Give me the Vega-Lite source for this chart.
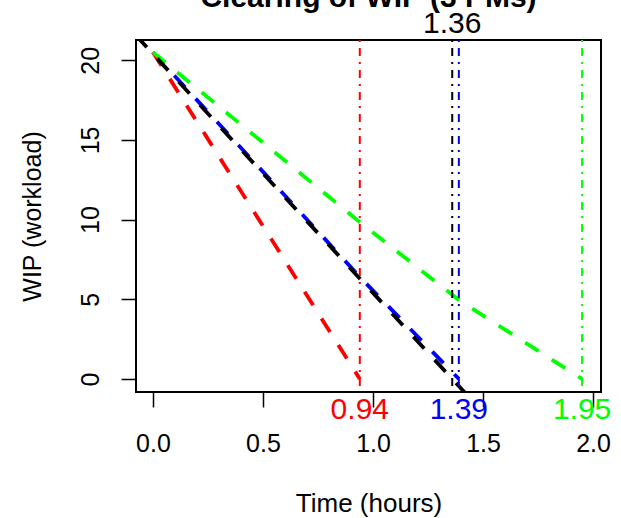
{
  "$schema": "https://vega.github.io/schema/vega-lite/v6.json",
  "autosize": {"type": "none"},
  "width": 465,
  "height": 352,
  "padding": {"left": 136, "top": 40, "right": 20, "bottom": 126},
  "background": "white",
  "title": {
    "text": "Clearing of WIP (3 PMs)",
    "fontSize": 30,
    "fontWeight": "bold",
    "font": "Liberation Sans",
    "color": "black",
    "anchor": "middle",
    "frame": "group",
    "baseline": "alphabetic",
    "offset": -28
  },
  "config": {
    "view": {"stroke": "black", "strokeWidth": 2},
    "font": "Liberation Sans"
  },
  "datasets": {
    "paths": [
      {"series": "1.39", "time": 0, "wip": 20.5},
      {"series": "1.39", "time": 0.94, "wip": 6.4},
      {"series": "1.39", "time": 1.39, "wip": 0},
      {"series": "0.94", "time": 0, "wip": 20.5},
      {"series": "0.94", "time": 0.94, "wip": 0},
      {"series": "1.95", "time": 0, "wip": 20.5},
      {"series": "1.95", "time": 0.94, "wip": 9.84},
      {"series": "1.95", "time": 1.39, "wip": 4.95},
      {"series": "1.95", "time": 1.95, "wip": 0},
      {"series": "1.36", "time": -0.077, "wip": 21.555},
      {"series": "1.36", "time": 1.46, "wip": -1.5}
    ],
    "ends": [
      {"series": "0.94", "time": 0.94, "label": "0.94"},
      {"series": "1.39", "time": 1.39, "label": "1.39"},
      {"series": "1.95", "time": 1.95, "label": "1.95"},
      {"series": "1.36", "time": 1.36, "label": "1.36"}
    ]
  },
  "layer": [
    {
      "data": {"name": "paths"},
      "transform": [{"filter": "datum.series == '1.39'"}],
      "mark": {"type": "line", "strokeWidth": 3.8, "strokeDash": [16, 15.5], "clip": true},
      "encoding": {
        "x": {"field": "time", "type": "quantitative", "scale": {"domain": [-0.077, 2.036], "nice": false, "zero": false},
          "axis": {"values": [0, 0.5, 1, 1.5, 2], "format": ".1f", "domain": false, "grid": false, "tickSize": 15, "tickColor": "black", "tickWidth": 1.5,
            "labelFontSize": 25, "labelColor": "black", "labelBaseline": "alphabetic", "labelPadding": 44, "labelFlush": false, "labelOverlap": false,
            "title": "Time (hours)", "titleFontSize": 26, "titleFontWeight": "normal", "titleColor": "black", "titlePadding": 34}},
        "y": {"field": "wip", "type": "quantitative", "scale": {"domain": [-0.82, 21.27], "nice": false, "zero": false},
          "axis": {"values": [0, 5, 10, 15, 20], "domain": false, "grid": false, "tickSize": 15, "tickColor": "black", "tickWidth": 1.5,
            "labelFontSize": 25, "labelColor": "black", "labelAngle": -90, "labelAlign": "center", "labelBaseline": "alphabetic", "labelPadding": 23, "labelFlush": false, "labelOverlap": false,
            "title": "WIP (workload)", "titleFontSize": 25, "titleFontWeight": "normal", "titleColor": "black", "titlePadding": 33}},
        "color": {"field": "series", "type": "nominal", "legend": null,
          "scale": {"domain": ["0.94", "1.39", "1.95", "1.36"], "range": ["#ff0000", "#0000ff", "#00ff00", "#000000"]}}
      }
    },
    {
      "data": {"name": "paths"},
      "transform": [{"filter": "datum.series == '0.94'"}],
      "mark": {"type": "line", "strokeWidth": 3.8, "strokeDash": [16, 15.5], "clip": true},
      "encoding": {
        "x": {"field": "time", "type": "quantitative"},
        "y": {"field": "wip", "type": "quantitative"},
        "color": {"field": "series", "type": "nominal", "legend": null}
      }
    },
    {
      "data": {"name": "paths"},
      "transform": [{"filter": "datum.series == '1.95'"}],
      "mark": {"type": "line", "strokeWidth": 3.8, "strokeDash": [16, 15.5], "clip": true},
      "encoding": {
        "x": {"field": "time", "type": "quantitative"},
        "y": {"field": "wip", "type": "quantitative"},
        "color": {"field": "series", "type": "nominal", "legend": null}
      }
    },
    {
      "data": {"name": "paths"},
      "transform": [{"filter": "datum.series == '1.36'"}],
      "mark": {"type": "line", "strokeWidth": 3.8, "strokeDash": [16, 15.5], "clip": true},
      "encoding": {
        "x": {"field": "time", "type": "quantitative"},
        "y": {"field": "wip", "type": "quantitative"},
        "color": {"field": "series", "type": "nominal", "legend": null}
      }
    },
    {
      "data": {"name": "ends"},
      "mark": {"type": "rule", "strokeWidth": 2, "strokeDash": [2, 6, 8, 6]},
      "encoding": {
        "x": {"field": "time", "type": "quantitative"},
        "color": {"field": "series", "type": "nominal", "legend": null}
      }
    },
    {
      "data": {"name": "ends"},
      "transform": [{"filter": "datum.series != '1.36'"}],
      "mark": {"type": "text", "fontSize": 30, "baseline": "alphabetic", "align": "center"},
      "encoding": {
        "x": {"field": "time", "type": "quantitative"},
        "y": {"datum": -2.5, "type": "quantitative"},
        "text": {"field": "label"},
        "color": {"field": "series", "type": "nominal", "legend": null}
      }
    },
    {
      "data": {"name": "ends"},
      "transform": [{"filter": "datum.series == '1.36'"}],
      "mark": {"type": "text", "fontSize": 30, "baseline": "alphabetic", "align": "center"},
      "encoding": {
        "x": {"field": "time", "type": "quantitative"},
        "y": {"datum": 21.69, "type": "quantitative"},
        "text": {"field": "label"},
        "color": {"field": "series", "type": "nominal", "legend": null}
      }
    }
  ]
}
